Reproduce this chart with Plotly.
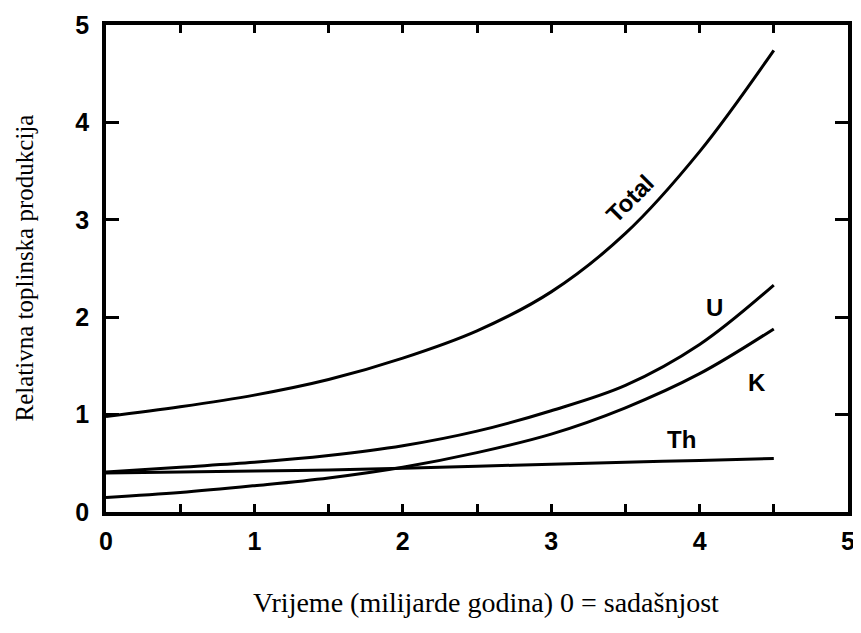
import plotly.graph_objects as go

# Time (billions of years ago), 0 = present
t_vals = [0.0, 0.5, 1.0, 1.5, 2.0, 2.5, 3.0, 3.5, 4.0, 4.5]
total = [0.98, 1.08, 1.20, 1.36, 1.58, 1.86, 2.26, 2.86, 3.70, 4.74]
uran = [0.41, 0.46, 0.51, 0.58, 0.68, 0.83, 1.04, 1.30, 1.72, 2.33]
kalij = [0.15, 0.20, 0.27, 0.35, 0.46, 0.61, 0.80, 1.07, 1.42, 1.88]
torij = [0.40, 0.41, 0.42, 0.43, 0.45, 0.47, 0.49, 0.51, 0.53, 0.55]

x_tickvals = [0, 0.5, 1, 1.5, 2, 2.5, 3, 3.5, 4, 4.5, 5]
x_ticktext = ["0", "", "1", "", "2", "", "3", "", "4", "", "5"]
y_tickvals = [0, 1, 2, 3, 4, 5]
y_ticktext = ["0", "1", "2", "3", "4", "5"]

labels = ["Total", "U", "K", "Th"]
label_x = [3.53, 4.10, 4.39, 3.88]
label_y = [3.22, 2.10, 1.33, 0.74]
label_angle = [-45, 0, 0, 0]

x_title = "Vrijeme (milijarde godina) 0 = sadašnjost"
y_title = "Relativna toplinska produkcija"

fig = go.Figure()
for name, ys in [("Total", total), ("U", uran), ("K", kalij), ("Th", torij)]:
    fig.add_trace(go.Scatter(x=t_vals, y=ys, mode="lines", name=name,
                             line=dict(color="black", width=3, shape="spline", smoothing=1.0),
                             showlegend=False, hoverinfo="x+y+name"))

for txt, xx, yy, ang in zip(labels, label_x, label_y, label_angle):
    fig.add_annotation(x=xx, y=yy, text=txt, showarrow=False, textangle=ang,
                       font=dict(family="Liberation Sans", size=24, color="black", weight="bold"))

# axis titles as annotations for precise placement
fig.add_annotation(xref="paper", yref="paper", x=0.5, y=0, yshift=-90, xshift=9,
                   text=x_title, showarrow=False, xanchor="center", yanchor="middle",
                   font=dict(family="Liberation Serif", size=28, color="black"))
fig.add_annotation(xref="paper", yref="paper", x=0, y=0.5, xshift=-82,
                   text=y_title, showarrow=False, textangle=-90, xanchor="center", yanchor="middle",
                   font=dict(family="Liberation Serif", size=25, color="black"))

tick_font = dict(family="Liberation Sans", size=25, color="black", weight="bold")
fig.update_xaxes(range=[0, 5], tickmode="array", tickvals=x_tickvals, ticktext=x_ticktext,
                 ticks="inside", ticklen=8, tickwidth=2.5, tickcolor="black",
                 showline=True, linewidth=4, linecolor="black", mirror="ticks",
                 showgrid=False, zeroline=False, tickfont=tick_font, automargin=False,
                 ticklabelstandoff=4)
fig.update_yaxes(range=[0, 5], tickmode="array", tickvals=y_tickvals, ticktext=y_ticktext,
                 ticks="inside", ticklen=13, tickwidth=2.5, tickcolor="black",
                 showline=True, linewidth=3.5, linecolor="black", mirror="ticks",
                 showgrid=False, zeroline=False, tickfont=tick_font, automargin=False,
                 ticklabelstandoff=8)

fig.update_layout(width=853, height=625,
                  margin=dict(l=98, r=13, t=17, b=121),
                  paper_bgcolor="white", plot_bgcolor="white")

fig.write_html("out.html")
